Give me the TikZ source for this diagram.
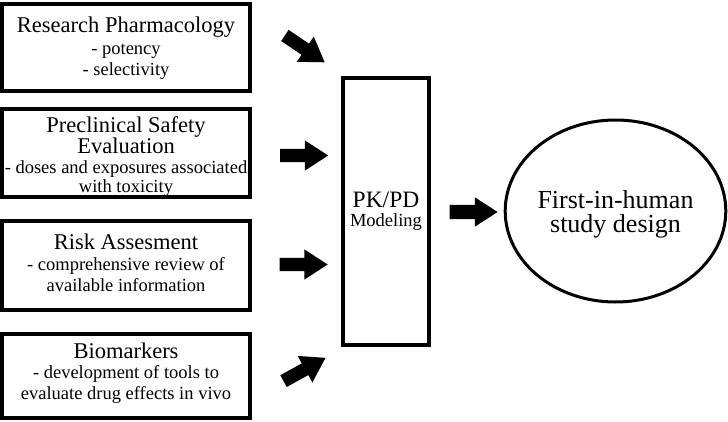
\documentclass[tikz,border=0pt]{standalone}
\usepackage{fontspec}
\setmainfont{Liberation Serif}
\usetikzlibrary{shapes.arrows,shapes.geometric}
\newcommand\hdfont{\fontsize{22.5}{24}\selectfont}
\newcommand\pkfont{\fontsize{23.5}{24}\selectfont}
\begin{document}
\begin{tikzpicture}[x=1pt,y=-1pt,
  box/.style={draw=black,line width=4pt,inner sep=0pt,align=center,
    minimum width=248pt,font=\fontsize{18.5}{21}\selectfont},
  blk/.style={single arrow,fill=black,draw=none,inner xsep=0pt,inner ysep=6.5pt,
    text height=0pt,text depth=0pt,minimum height=48pt,
    single arrow head extend=8.5pt,single arrow tip angle=66}]
\useasboundingbox (0,0) rectangle (728,422);

\node[box,minimum height=86.5pt] (b1) at (126,47.75)
  {{\hdfont Research Pharmacology}\\[1pt]- potency\\- selectivity};
\node[box,minimum height=82pt,font=\fontsize{18.5}{19}\selectfont] (b2) at (126,153)
  {{\hdfont\rule{0pt}{23.5pt}Preclinical Safety}\\{\hdfont Evaluation}\\[1pt]- doses and exposures associated\\with toxicity};
\node[box,minimum height=89pt] (b3) at (126,265.5)
  {{\hdfont Risk Assesment}\\- comprehensive review of\\available information\rule[-6pt]{0pt}{6pt}};
\node[box,minimum height=84.5pt,font=\fontsize{18.5}{20.5}\selectfont] (b4) at (126,375.75)
  {{\hdfont Biomarkers}\\- development of tools to\\evaluate drug effects in vivo\rule[-10pt]{0pt}{10pt}};

\node[draw=black,line width=3.5pt,minimum width=86pt,minimum height=267pt,inner sep=0pt,
  align=center,font=\fontsize{18.5}{19}\selectfont] (pk) at (386,211.5)
  {{\pkfont PK/PD}\\Modeling};

\node[ellipse,draw=black,line width=3pt,minimum width=216pt,minimum height=182pt,
  inner sep=0pt,align=center,font=\fontsize{26}{24}\selectfont] (fih) at (615.5,211)
  {\rule{0pt}{24pt}First-in-human\\study design};

\node[blk,rotate=-34] (a1) at (300.5,46) {};
\node[blk] (a2) at (299,155.5) {};
\node[blk] (a3) at (298.5,264.5) {};
\node[blk,rotate=29] (a4) at (300,372) {};
\node[blk,inner ysep=7pt,single arrow head extend=7.5pt] (a5) at (468,212) {};
\end{tikzpicture}
\end{document}
